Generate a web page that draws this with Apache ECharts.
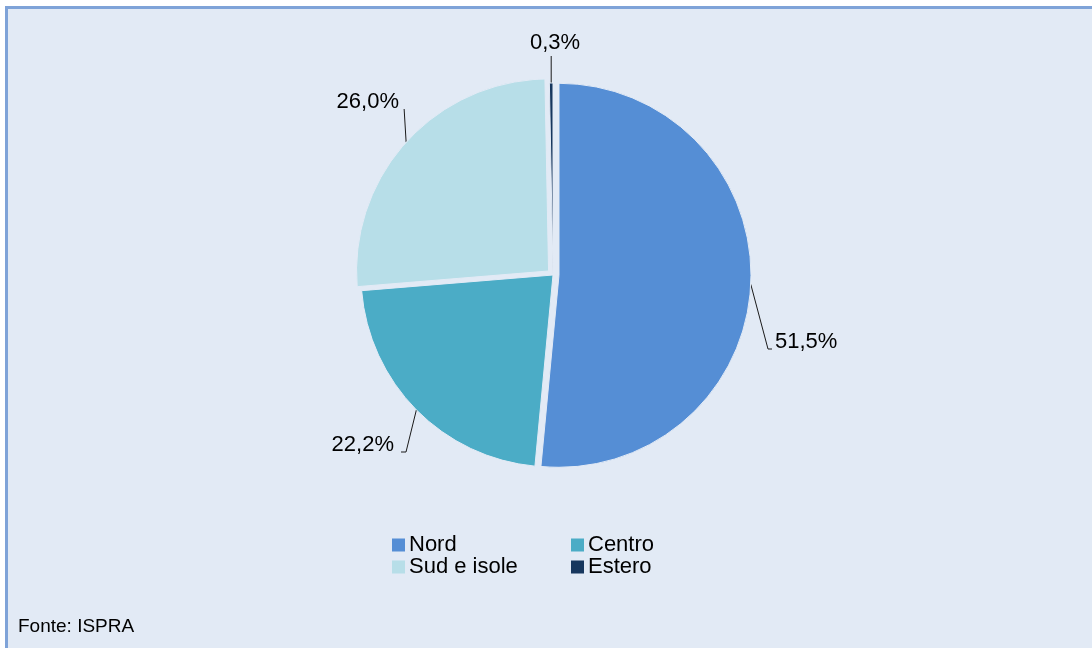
<!DOCTYPE html>
<html>
<head>
<meta charset="utf-8">
<script src="https://cdn.jsdelivr.net/npm/echarts@6/dist/echarts.min.js"></script>
<style>
  html, body { margin: 0; padding: 0; background: #fff; }
  #wrap { position: relative; width: 1092px; height: 648px; overflow: hidden; }
  #frame {
    position: absolute; left: 5px; top: 6px; width: 1200px; height: 700px;
    background: #E2EAF5; border-top: 3px solid #7FA3D8; border-left: 3px solid #7FA3D8;
  }
  #chart { position: absolute; left: 0; top: 0; width: 1092px; height: 648px; }
</style>
</head>
<body>
<div id="wrap">
  <div id="frame"></div>
  <div id="chart"></div>
</div>
<script>
// quota per area geografica
const categories = ['Nord', 'Centro', 'Sud e isole', 'Estero'];
const shares = [51.5, 22.2, 26.0, 0.3];
const sliceColors = ['#558ED5', '#4BACC6', '#B7DEE8', '#17375E'];
const exploded = [true, false, true, false];

const bg = '#E2EAF5';
const font = "'Liberation Sans', Arial, sans-serif";
const pieCenter = [553, 275];
const explodeBy = 6;

// dove stanno le etichette (stile Excel)
const labelSpots = [
  { x: 775, y: 342, align: 'left' },
  { x: 394, y: 445, align: 'right' },
  { x: 399, y: 102, align: 'right' },
  { x: 555, y: 43, align: 'center' },
];

function leader(i, s) {
  const sp = labelSpots[i];
  if (i === 0) return [s, [sp.x - 7, sp.y + 7], [sp.x - 3, sp.y + 7]];
  if (i === 1) return [s, [sp.x + 12, sp.y + 7], [sp.x + 7, sp.y + 7]];
  if (i === 2) return [s, [s[0] - 2, sp.y + 7]];
  return [s, [s[0], sp.y + 13]];
}

// spostamento della fetta esplosa lungo la bisettrice
const total = shares.reduce((a, b) => a + b, 0);
function shiftOf(i) {
  if (!exploded[i]) return [0, 0];
  const before = shares.slice(0, i).reduce((a, b) => a + b, 0);
  const mid = (before + shares[i] / 2) / total * 2 * Math.PI;
  return [Math.sin(mid) * explodeBy, -Math.cos(mid) * explodeBy];
}

// una serie per fetta, cosi ognuna puo essere staccata per conto suo
const series = categories.map((cat, k) => {
  const sh = shiftOf(k);
  return {
    type: 'pie',
    name: cat,
    center: [pieCenter[0] + sh[0], pieCenter[1] + sh[1]],
    radius: 192,
    startAngle: 90,
    clockwise: true,
    avoidLabelOverlap: false,
    legendHoverLink: false,
    emphasis: { disabled: true },
    label: {
      show: true,
      position: 'outside',
      fontFamily: font,
      fontSize: 22,
      color: '#000',
      formatter: p => p.value.toFixed(1).replace('.', ',') + '%',
    },
    labelLine: {
      show: true, length: 10, length2: 5,
      lineStyle: { color: '#1a1a1a', width: 1 },
    },
    labelLayout: p => {
      if (p.dataIndex !== k) return {};
      const sp = labelSpots[k];
      const out = { x: sp.x, y: sp.y, align: sp.align, verticalAlign: 'middle' };
      if (p.labelLinePoints) out.labelLinePoints = leader(k, p.labelLinePoints[0]);
      return out;
    },
    data: categories.map((name, i) => i === k
      ? { name, value: shares[i], itemStyle: { color: sliceColors[i], borderColor: bg, borderWidth: 1 } }
      : { name, value: shares[i], itemStyle: { color: 'transparent', borderWidth: 0 },
          label: { show: false }, labelLine: { show: false } }),
  };
});

const legendStyle = {
  orient: 'vertical', top: 534, padding: 0,
  icon: 'rect', itemWidth: 13, itemHeight: 13, itemGap: 0,
  textStyle: { fontFamily: font, fontSize: 22, lineHeight: 22, color: '#000', padding: [0, 0, 0, -1] },
  selectedMode: false,
};
const legendItem = i => ({ name: categories[i], itemStyle: { color: sliceColors[i], borderWidth: 0 } });

const chart = echarts.init(document.getElementById('chart'));

chart.setOption({
  animation: false,
  backgroundColor: 'transparent',
  title: {
    text: 'Fonte: ISPRA',
    left: 18, top: 617, padding: 0,
    textStyle: { fontFamily: font, fontSize: 19, fontWeight: 'normal', color: '#000' },
  },
  legend: [
    Object.assign({ left: 392, data: [legendItem(0), legendItem(2)] }, legendStyle),
    Object.assign({ left: 571, data: [legendItem(1), legendItem(3)] }, legendStyle),
  ],
  series,
});
</script>
</body>
</html>
